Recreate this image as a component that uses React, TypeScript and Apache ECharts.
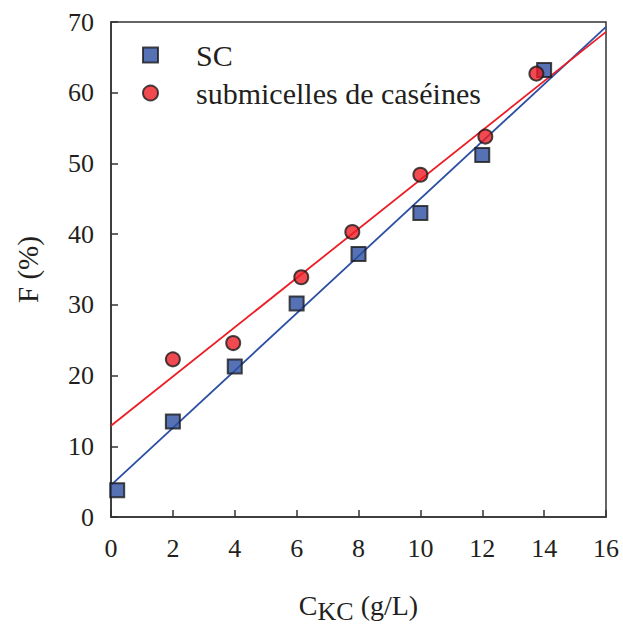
import React, { useEffect, useRef } from "react";
import * as echarts from "echarts";

const scData: [number, number][] = [
  [0.2, 3.8], [2, 13.5], [4, 21.3], [6, 30.2], [8, 37.2], [10, 43.0], [12, 51.2], [14, 63.2],
];
const subData: [number, number][] = [
  [2, 22.3], [3.95, 24.6], [6.15, 33.9], [7.8, 40.3], [10, 48.4], [12.1, 53.8], [13.75, 62.7],
];
const scFit: [number, number][] = [[0, 4.5], [16, 69.3]];
const subFit: [number, number][] = [[0, 12.9], [16, 68.6]];
const seriesNames = ["SC", "submicelles de caséines"];

const BLUE = "#2C4FA3";
const RED = "#EC1C24";
const FONT = "Liberation Serif";
const TXT = "#231F20";

export default function App() {
  const ref = useRef<HTMLDivElement>(null);
  useEffect(() => {
    if (!ref.current) return;
    const chart = echarts.init(ref.current, undefined, { renderer: "svg" });
    chart.setOption({
      animation: false,
      textStyle: { fontFamily: FONT, color: TXT },
      grid: {
        left: 111, right: 17, top: 22, bottom: 110,
        outerBoundsMode: "none",
        containLabel: false,
        show: true, borderColor: "#333", borderWidth: 1.5, backgroundColor: "transparent",
      },
      legend: {
        orient: "vertical",
        left: 137,
        top: 35,
        itemWidth: 15,
        itemHeight: 15,
        itemGap: 8,
        data: [
          { name: seriesNames[0], icon: "rect" },
          { name: seriesNames[1], icon: "circle" },
        ],
        textStyle: { fontFamily: FONT, fontSize: 30, color: TXT, padding: [0, 0, 0, 33] },
      },
      xAxis: {
        type: "value",
        min: 0,
        max: 16,
        interval: 2,
        splitLine: { show: false },
        axisLine: { lineStyle: { color: "#333", width: 1.5 } },
        axisTick: { inside: true, length: 7, lineStyle: { color: "#333", width: 1.5 } },
        axisLabel: { fontFamily: FONT, fontSize: 26, color: TXT, margin: 18 },
        name: "{c|C}{s|KC}{c| (g/L)}",
        nameLocation: "middle",
        nameGap: 70,
        nameTextStyle: {
          rich: {
            c: { fontFamily: FONT, fontSize: 28, color: TXT },
            s: { fontFamily: FONT, fontSize: 26, color: TXT, padding: [11, 0, 0, 0] },
          },
        },
      },
      yAxis: {
        type: "value",
        min: 0,
        max: 70,
        interval: 10,
        splitLine: { show: false },
        axisLine: { show: true, lineStyle: { color: "#333", width: 1.5 } },
        axisTick: { show: true, inside: true, length: 7, lineStyle: { color: "#333", width: 1.5 } },
        axisLabel: { fontFamily: FONT, fontSize: 26, color: TXT, margin: 17 },
        name: "F (%)",
        nameLocation: "middle",
        nameGap: 69,
        nameTextStyle: { fontFamily: FONT, fontSize: 29, color: TXT },
      },
      series: [
        {
          type: "line",
          name: "fitSC",
          data: scFit,
          showSymbol: false,
          symbol: "none",
          lineStyle: { color: BLUE, width: 1.8 },
          z: 1,
          silent: true,
        },
        {
          type: "line",
          name: "fitSub",
          data: subFit,
          showSymbol: false,
          symbol: "none",
          lineStyle: { color: RED, width: 1.8 },
          z: 1,
          silent: true,
        },
        {
          type: "scatter",
          name: seriesNames[0],
          data: scData,
          symbol: "rect",
          symbolSize: 14,
          itemStyle: { color: BLUE, borderColor: "#1a1a1a", borderWidth: 2 },
          z: 3,
        },
        {
          type: "scatter",
          name: seriesNames[1],
          data: subData,
          symbol: "circle",
          symbolSize: 14,
          itemStyle: { color: RED, borderColor: "#1a1a1a", borderWidth: 2 },
          z: 4,
        },
      ],
    });
    return () => chart.dispose();
  }, []);
  return (
    <div
      ref={ref}
      style={{ position: "fixed", left: 0, top: 0, width: 623, height: 627, background: "#fff" }}
    />
  );
}
